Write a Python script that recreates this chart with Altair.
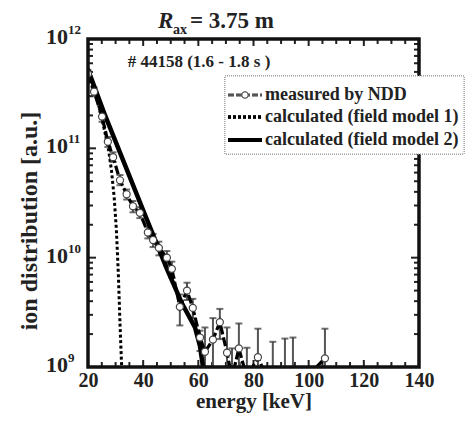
import altair as alt
import pandas as pd

# ---------------- data ----------------
# measured by NDD
meas_E = [20.0, 22.2, 25.1, 27.2, 29.1, 31.6, 34.0, 36.3, 38.8, 41.7, 43.6, 45.7, 48.6, 50.4,
          53.3, 55.9, 58.0, 60.6, 62.4, 65.3, 67.8, 70.4, 72.2, 74.7, 77.6, 81.6, 87.0,
          91.4, 94.3, 105.9]
meas_v = [4.8e11, 3.3e11, 1.95e11, 1.15e11, 8.3e10, 5.1e10, 3.8e10, 2.95e10, 2.57e10, 1.70e10,
          1.45e10, 1.23e10, 1.0e10, 7.9e9, 3.55e9, 5.0e9, 3.47e9, 1.86e9, 1.38e9, 1.78e9,
          2.57e9, 1.35e9, 0.8e9, 1.48e9, 0.8e9, 1.23e9, 0.6e9, 0.6e9, 0.6e9, 1.2e9]
meas_hi = [5.2e11, 3.6e11, 2.15e11, 1.27e11, 9.2e10, 5.7e10, 4.2e10, 3.3e10, 2.9e10, 1.9e10,
           1.65e10, 1.4e10, 1.15e10, 9.2e9, 4.6e9, 5.9e9, 4.2e9, 2.15e9, 2.3e9, 2.8e9,
           3.4e9, 2.3e9, 1.48e9, 2.5e9, 1.5e9, 2.24e9, 1.7e9, 1.82e9, 1.86e9, 2.24e9]
meas_lo = [4.4e11, 3.0e11, 1.75e11, 1.03e11, 7.5e10, 4.6e10, 3.4e10, 2.6e10, 2.3e10, 1.5e10,
           1.25e10, 1.05e10, 0.85e10, 6.6e9, 2.4e9, 4.1e9, 2.8e9, 1.4e9, 0.6e9, 0.7e9,
           1.8e9, 0.5e9, 0.3e9, 0.6e9, 0.3e9, 0.4e9, 0.2e9, 0.2e9, 0.2e9, 0.4e9]
# calculated (field model 1)
m1_E = [20.0, 22.0, 24.0, 26.0, 27.5, 28.5, 29.5, 30.3, 31.0, 31.6, 32.2, 32.6]
m1_v = [5.4e11, 3.7e11, 2.4e11, 1.45e11, 9.5e10, 6.3e10, 3.55e10, 1.78e10, 7.1e9, 2.5e9, 1.0e9, 4e8]
# calculated (field model 2)
m2_E = [20.0, 26.2, 32.7, 40.7, 48.6, 54.1, 58.8, 60.6, 61.7, 62.5]
m2_v = [5.25e11, 2.0e11, 7.8e10, 2.45e10, 7.9e9, 3.8e9, 2.3e9, 1.55e9, 1.0e9, 5e8]

x_labels = [20, 40, 60, 80, 100, 120, 140]
x_minor = [25, 30, 35, 45, 50, 55, 65, 70, 75, 85, 90, 95, 105, 110, 115, 125, 130, 135]
y_decades = [1e9, 1e10, 1e11, 1e12]
y_exps = ["9", "10", "11", "12"]
y_minor = [m * 10 ** d for d in (9, 10, 11) for m in range(2, 10)]

legend_labels = ["measured by NDD", "calculated (field model 1)", "calculated (field model 2)"]

# ---------------- chart ----------------
W, H = 331, 328
FONT = "Liberation Serif"
xs = alt.Scale(domain=[20, 140], nice=False, zero=False)
ys = alt.Scale(type="log", domain=[1e9, 1e12], nice=False)
xaxis = alt.Axis(values=x_labels, ticks=False, domain=False, grid=False, labelFont=FONT,
                 labelFontSize=20, labelFontWeight="bold", labelColor="#222", labelPadding=3,
                 title="energy [keV]", titleFont=FONT, titleFontSize=21, titleFontWeight="bold",
                 titleColor="#222", titlePadding=0, labelFlush=False)

def X(f="E"):
    return alt.X(f"{f}:Q", scale=xs, axis=xaxis)

def Y(f="v"):
    return alt.Y(f"{f}:Q", scale=ys, axis=None)

meas = pd.DataFrame({"E": meas_E, "v": meas_v, "hi": meas_hi, "lo": meas_lo})
m1 = pd.DataFrame({"E": m1_E, "v": m1_v})
m2 = pd.DataFrame({"E": m2_E, "v": m2_v})
xt = pd.DataFrame({"E": x_minor})
xt_major = pd.DataFrame({"E": x_labels[1:-1]})
yt = pd.DataFrame({"v": y_minor})
yt_major = pd.DataFrame({"v": y_decades[1:-1]})
ylab = pd.DataFrame({"v": y_decades, "exp": y_exps})

layers = []
# inward ticks
for df, L in ((xt, 5), (xt_major, 7)):
    c = alt.Chart(df)
    layers.append(c.mark_rule(color="#222", strokeWidth=2).encode(
        x=X(), y=alt.value(H), y2=alt.value(H - L)))
    layers.append(c.mark_rule(color="#222", strokeWidth=2).encode(
        x=X(), y=alt.value(0), y2=alt.value(L)))
for df, L in ((yt, 5), (yt_major, 8)):
    c = alt.Chart(df)
    layers.append(c.mark_rule(color="#222", strokeWidth=2).encode(
        y=Y(), x=alt.value(0), x2=alt.value(L)))
    layers.append(c.mark_rule(color="#222", strokeWidth=2).encode(
        y=Y(), x=alt.value(W - L), x2=alt.value(W)))

# y labels 10^n
layers.append(alt.Chart(ylab).mark_text(font=FONT, fontSize=22, fontWeight="bold", color="#222",
                                        align="right", baseline="middle", dx=-20, dy=-2).encode(
    y=Y(), x=alt.value(0), text=alt.value("10")))
layers.append(alt.Chart(ylab).mark_text(font=FONT, fontSize=13, fontWeight="bold", color="#222",
                                        align="left", baseline="middle", dx=-20, dy=-9).encode(
    y=Y(), x=alt.value(0), text="exp:N"))

# data
layers.append(alt.Chart(m1).mark_line(clip=True, color="black", strokeWidth=3,
                                      strokeDash=[3, 2.5]).encode(x=X(), y=Y()))
layers.append(alt.Chart(meas).mark_rule(clip=True, color="#555", strokeWidth=2).encode(
    x=X(), y=Y("lo"), y2="hi:Q"))
layers.append(alt.Chart(meas).mark_tick(clip=True, color="#333", orient="horizontal",
                                        size=7, thickness=2).encode(x=X(), y=Y("hi")))
layers.append(alt.Chart(meas).mark_tick(clip=True, color="#333", orient="horizontal",
                                        size=7, thickness=2).encode(x=X(), y=Y("lo")))
layers.append(alt.Chart(meas).mark_line(clip=True, color="black", strokeWidth=3.2,
                                        strokeDash=[9, 3]).encode(x=X(), y=Y()))
layers.append(alt.Chart(m2).mark_line(clip=True, color="black", strokeWidth=4.5).encode(
    x=X(), y=Y()))
layers.append(alt.Chart(meas).mark_point(clip=True, shape="circle", filled=True, fill="white",
                                         stroke="#444", strokeWidth=1.2, size=50, opacity=1).encode(
    x=X(), y=Y()))

# frame
frame = alt.Chart(pd.DataFrame({"t": ["frame"]}))
layers.append(frame.mark_rect(fill=None, stroke="#111", strokeWidth=3.5, filled=False).encode(
    x=alt.value(0), x2=alt.value(W), y=alt.value(0), y2=alt.value(H)))

# legend (decoration)
leg = alt.Chart(pd.DataFrame({"t": legend_labels}))
layers.append(leg.mark_rect(fill="white", stroke="#999", strokeWidth=1, strokeDash=[1, 1]).encode(
    x=alt.value(137), x2=alt.value(376), y=alt.value(37), y2=alt.value(115)))
rows = [56, 78, 101]
layers.append(leg.mark_rule(color="#555", strokeWidth=2.5, strokeDash=[6, 2]).encode(
    x=alt.value(140), x2=alt.value(174), y=alt.value(rows[0])))
layers.append(leg.mark_point(shape="circle", filled=True, fill="white", stroke="#555",
                             strokeWidth=1, size=40, opacity=1).encode(
    x=alt.value(157), y=alt.value(rows[0])))
layers.append(leg.mark_rule(color="black", strokeWidth=3, strokeDash=[3, 2]).encode(
    x=alt.value(140), x2=alt.value(174), y=alt.value(rows[1])))
layers.append(leg.mark_rule(color="black", strokeWidth=4).encode(
    x=alt.value(140), x2=alt.value(174), y=alt.value(rows[2])))
for i, r in enumerate(rows):
    layers.append(alt.Chart(pd.DataFrame({"t": [legend_labels[i]]})).mark_text(
        font=FONT, fontSize=18, fontWeight="bold", color="#222", align="left",
        baseline="middle").encode(x=alt.value(177), y=alt.value(r), text="t:N"))

# annotations and titles
def txt(s, x, y, size, align="left", style="normal", angle=0):
    kw = dict(font=FONT, fontSize=size, fontWeight="bold", color="#222", align=align,
              baseline="middle", fontStyle=style)
    if angle:
        kw["angle"] = angle
    return alt.Chart(pd.DataFrame({"t": [s]})).mark_text(**kw).encode(
        x=alt.value(x), y=alt.value(y), text="t:N")

layers.append(txt("# 44158 (1.6 - 1.8 s )", 111, 23, 17, align="center"))
layers.append(txt("R", 70, -18, 23, style="italic"))
layers.append(txt("ax", 85, -9, 14))
layers.append(txt("= 3.75 m", 102, -18, 23))
layers.append(txt("ion distribution [a.u.]", -58, 182, 24, align="center", angle=270))

chart = alt.layer(*layers).properties(
    width=W, height=H,
    autosize=alt.AutoSizeParams(type="none"),
    padding={"left": 80, "top": 31, "right": 46, "bottom": 52},
).configure_view(stroke=None).configure(background="white")

chart.save("out.html", embed_options={"renderer": "svg", "actions": False})
